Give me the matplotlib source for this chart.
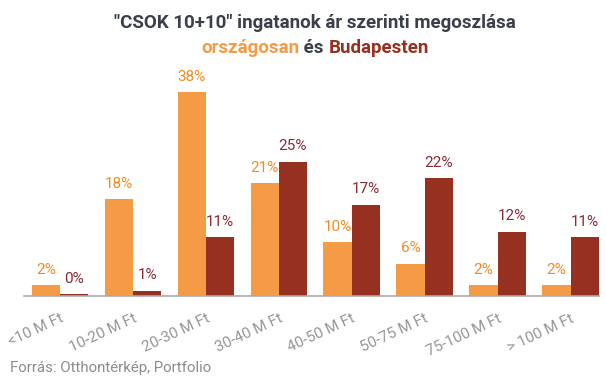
import matplotlib.pyplot as plt
import numpy as np

categories = ['<10 M Ft', '10-20 M Ft', '20-30 M Ft', '30-40 M Ft',
              '40-50 M Ft', '50-75 M Ft', '75-100 M Ft', '> 100 M Ft']
orszagos = [2, 18, 38, 21, 10, 6, 2, 2]
budapest = [0.3, 1, 11, 25, 17, 22, 12, 11]
orszagos_labels = ['2%', '18%', '38%', '21%', '10%', '6%', '2%', '2%']
budapest_labels = ['0%', '1%', '11%', '25%', '17%', '22%', '12%', '11%']

c_orange = '#F59B45'
c_dark = '#963121'
c_orange_txt = '#F28A22'
c_dark_txt = '#8A2A33'

plt.rcParams['font.family'] = ['Roboto', 'DejaVu Sans']

fig = plt.figure(figsize=(6.06, 3.79), dpi=100)
ax = fig.add_axes([24 / 606, 83 / 379, 575 / 606, 236 / 379])

x = np.arange(len(categories))
w = 0.388
b1 = ax.bar(x - w / 2, orszagos, w, color=c_orange)
b2 = ax.bar(x + w / 2, budapest, w, color=c_dark)

for bar, lab in zip(b1, orszagos_labels):
    ax.annotate(lab, (bar.get_x() + bar.get_width() / 2, bar.get_height()),
                xytext=(0, 6), textcoords='offset points', ha='center', va='bottom',
                fontsize=11, color=c_orange_txt)
for bar, lab in zip(b2, budapest_labels):
    ax.annotate(lab, (bar.get_x() + bar.get_width() / 2, bar.get_height()),
                xytext=(0, 6), textcoords='offset points', ha='center', va='bottom',
                fontsize=11, color=c_dark_txt)

ax.set_xlim(-0.494, 7.39)
ax.set_ylim(0, 43.95)
ax.set_xticks(x)
ax.set_xticklabels(categories, rotation=25, ha='right', rotation_mode='anchor',
                   fontsize=11, color='#959595')
ax.tick_params(axis='x', length=0, pad=11)
ax.set_yticks([])
for s in ['top', 'right', 'left']:
    ax.spines[s].set_visible(False)
ax.spines['bottom'].set_color('#AAAAAA')
ax.spines['bottom'].set_linewidth(1.2)

title_size = 13.5
fig.text(315 / 606, 1 - 23 / 379, '"CSOK 10+10" ingatanok ár szerinti megoszlása',
         ha='center', va='center', fontsize=title_size, fontweight='bold', color='#3A3F4A')
t1 = fig.text(0, 0, 'országosan', fontsize=title_size, fontweight='bold', color=c_orange)
t2 = fig.text(0, 0, ' és ', fontsize=title_size, fontweight='bold', color='#3A3F4A')
t3 = fig.text(0, 0, 'Budapesten', fontsize=title_size, fontweight='bold', color=c_dark)

fig.canvas.draw()
r = fig.canvas.get_renderer()
widths = [t.get_window_extent(r).width for t in (t1, t2, t3)]
xpos = 315 - sum(widths) / 2
for t, wd in zip((t1, t2, t3), widths):
    t.set_position((xpos / 606, 1 - 48 / 379))
    t.set_va('center')
    xpos += wd

fig.text(10 / 606, 1 - 368 / 379, 'Forrás: Otthontérkép, Portfolio',
         ha='left', va='center', fontsize=10.8, color='#8C8C8C')

fig.savefig('out.png', dpi=100)
